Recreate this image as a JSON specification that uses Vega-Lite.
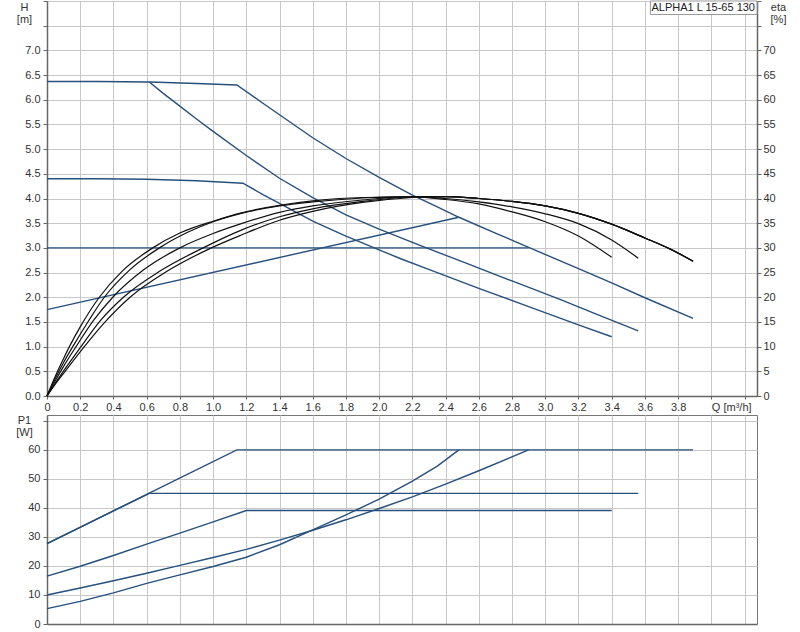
{
  "$schema": "https://vega.github.io/schema/vega-lite/v6.json",
  "padding": {"left": 15, "top": 0, "right": 5, "bottom": 0},
  "background": "white",
  "config": {
    "view": {"stroke": "#777777", "strokeWidth": 1},
    "font": "Liberation Sans",
    "axis": {
      "labelFont": "Liberation Sans", "labelFontSize": 11, "labelColor": "#333333",
      "titleFont": "Liberation Sans", "titleFontSize": 11, "titleFontWeight": "normal", "titleColor": "#333333",
      "domainColor": "#666666", "domainWidth": 1.5, "tickColor": "#666666", "tickSize": 4,
      "gridColor": "#c8c8c8", "gridWidth": 1, "labelOverlap": false, "labelFlush": false
    }
  },
  "datasets": {
    "head": [
      {"curve": "h1", "q": 0, "h": 6.37}, {"curve": "h1", "q": 0.3, "h": 6.37}, {"curve": "h1", "q": 0.62, "h": 6.36}, {"curve": "h1", "q": 0.9, "h": 6.33}, {"curve": "h1", "q": 1.143, "h": 6.30}, {"curve": "h1", "q": 1.3, "h": 5.93}, {"curve": "h1", "q": 1.45, "h": 5.58}, {"curve": "h1", "q": 1.6, "h": 5.23}, {"curve": "h1", "q": 1.8, "h": 4.81}, {"curve": "h1", "q": 2.0, "h": 4.43}, {"curve": "h1", "q": 2.2, "h": 4.07}, {"curve": "h1", "q": 2.35, "h": 3.83}, {"curve": "h1", "q": 2.48, "h": 3.62}, {"curve": "h1", "q": 2.7, "h": 3.30}, {"curve": "h1", "q": 2.9, "h": 3.01}, {"curve": "h1", "q": 3.2, "h": 2.58}, {"curve": "h1", "q": 3.4, "h": 2.29}, {"curve": "h1", "q": 3.6, "h": 1.99}, {"curve": "h1", "q": 3.89, "h": 1.57},
      {"curve": "h2", "q": 0.616, "h": 6.36}, {"curve": "h2", "q": 0.7, "h": 6.13}, {"curve": "h2", "q": 0.8, "h": 5.87}, {"curve": "h2", "q": 0.9, "h": 5.61}, {"curve": "h2", "q": 1.0, "h": 5.36}, {"curve": "h2", "q": 1.2, "h": 4.87}, {"curve": "h2", "q": 1.4, "h": 4.41}, {"curve": "h2", "q": 1.6, "h": 4.02}, {"curve": "h2", "q": 1.8, "h": 3.67}, {"curve": "h2", "q": 2.0, "h": 3.38}, {"curve": "h2", "q": 2.2, "h": 3.11}, {"curve": "h2", "q": 2.5, "h": 2.72}, {"curve": "h2", "q": 2.8, "h": 2.33}, {"curve": "h2", "q": 3.1, "h": 1.94}, {"curve": "h2", "q": 3.3, "h": 1.67}, {"curve": "h2", "q": 3.56, "h": 1.32},
      {"curve": "h3", "q": 0, "h": 4.40}, {"curve": "h3", "q": 0.3, "h": 4.40}, {"curve": "h3", "q": 0.6, "h": 4.39}, {"curve": "h3", "q": 0.9, "h": 4.36}, {"curve": "h3", "q": 1.18, "h": 4.31}, {"curve": "h3", "q": 1.3, "h": 4.08}, {"curve": "h3", "q": 1.4, "h": 3.90}, {"curve": "h3", "q": 1.6, "h": 3.54}, {"curve": "h3", "q": 1.8, "h": 3.24}, {"curve": "h3", "q": 2.0, "h": 2.96}, {"curve": "h3", "q": 2.13, "h": 2.78}, {"curve": "h3", "q": 2.31, "h": 2.55}, {"curve": "h3", "q": 2.6, "h": 2.18}, {"curve": "h3", "q": 2.9, "h": 1.81}, {"curve": "h3", "q": 3.2, "h": 1.44}, {"curve": "h3", "q": 3.4, "h": 1.20},
      {"curve": "h4", "q": 0, "h": 3.0}, {"curve": "h4", "q": 2.9, "h": 3.0},
      {"curve": "h5", "q": 0, "h": 1.75}, {"curve": "h5", "q": 2.48, "h": 3.62}
    ],
    "eta": [
      {"curve": "e1", "q": 0, "eta": 0}, {"curve": "e1", "q": 0.05, "eta": 4.0}, {"curve": "e1", "q": 0.1, "eta": 7.6}, {"curve": "e1", "q": 0.135, "eta": 10}, {"curve": "e1", "q": 0.2, "eta": 14.0}, {"curve": "e1", "q": 0.315, "eta": 20}, {"curve": "e1", "q": 0.45, "eta": 25.2}, {"curve": "e1", "q": 0.637, "eta": 30}, {"curve": "e1", "q": 0.8, "eta": 33.0}, {"curve": "e1", "q": 1.0, "eta": 35.4}, {"curve": "e1", "q": 1.17, "eta": 37.1}, {"curve": "e1", "q": 1.4, "eta": 38.6}, {"curve": "e1", "q": 1.6, "eta": 39.5}, {"curve": "e1", "q": 1.9, "eta": 40.2}, {"curve": "e1", "q": 2.2, "eta": 40.3}, {"curve": "e1", "q": 2.4, "eta": 39.8}, {"curve": "e1", "q": 2.6, "eta": 38.9}, {"curve": "e1", "q": 2.8, "eta": 37.3}, {"curve": "e1", "q": 3.0, "eta": 35.3}, {"curve": "e1", "q": 3.2, "eta": 32.4}, {"curve": "e1", "q": 3.4, "eta": 28.1},
      {"curve": "e2", "q": 0, "eta": 0}, {"curve": "e2", "q": 0.05, "eta": 3.6}, {"curve": "e2", "q": 0.1, "eta": 6.8}, {"curve": "e2", "q": 0.155, "eta": 10}, {"curve": "e2", "q": 0.25, "eta": 15.2}, {"curve": "e2", "q": 0.345, "eta": 20}, {"curve": "e2", "q": 0.5, "eta": 25.6}, {"curve": "e2", "q": 0.677, "eta": 30}, {"curve": "e2", "q": 0.85, "eta": 33.2}, {"curve": "e2", "q": 1.0, "eta": 35.3}, {"curve": "e2", "q": 1.17, "eta": 37.0}, {"curve": "e2", "q": 1.4, "eta": 38.5}, {"curve": "e2", "q": 1.6, "eta": 39.3}, {"curve": "e2", "q": 1.9, "eta": 40.1}, {"curve": "e2", "q": 2.2, "eta": 40.4}, {"curve": "e2", "q": 2.4, "eta": 40.0}, {"curve": "e2", "q": 2.6, "eta": 39.3}, {"curve": "e2", "q": 2.8, "eta": 38.3}, {"curve": "e2", "q": 3.0, "eta": 36.9}, {"curve": "e2", "q": 3.2, "eta": 34.9}, {"curve": "e2", "q": 3.4, "eta": 31.6}, {"curve": "e2", "q": 3.56, "eta": 27.9},
      {"curve": "e3", "q": 0, "eta": 0}, {"curve": "e3", "q": 0.05, "eta": 3.1}, {"curve": "e3", "q": 0.1, "eta": 6.0}, {"curve": "e3", "q": 0.175, "eta": 10}, {"curve": "e3", "q": 0.28, "eta": 15.3}, {"curve": "e3", "q": 0.396, "eta": 20}, {"curve": "e3", "q": 0.58, "eta": 25.5}, {"curve": "e3", "q": 0.8, "eta": 30}, {"curve": "e3", "q": 1.0, "eta": 32.9}, {"curve": "e3", "q": 1.17, "eta": 34.9}, {"curve": "e3", "q": 1.4, "eta": 37.2}, {"curve": "e3", "q": 1.6, "eta": 38.5}, {"curve": "e3", "q": 1.9, "eta": 39.7}, {"curve": "e3", "q": 2.2, "eta": 40.4}, {"curve": "e3", "q": 2.4, "eta": 40.4}, {"curve": "e3", "q": 2.6, "eta": 40.0}, {"curve": "e3", "q": 2.8, "eta": 39.4}, {"curve": "e3", "q": 3.0, "eta": 38.5}, {"curve": "e3", "q": 3.2, "eta": 37.0}, {"curve": "e3", "q": 3.4, "eta": 34.8}, {"curve": "e3", "q": 3.6, "eta": 32.0}, {"curve": "e3", "q": 3.75, "eta": 29.8}, {"curve": "e3", "q": 3.89, "eta": 27.3},
      {"curve": "e4", "q": 0, "eta": 0}, {"curve": "e4", "q": 0.05, "eta": 2.6}, {"curve": "e4", "q": 0.1, "eta": 5.1}, {"curve": "e4", "q": 0.205, "eta": 10}, {"curve": "e4", "q": 0.32, "eta": 15.2}, {"curve": "e4", "q": 0.46, "eta": 20}, {"curve": "e4", "q": 0.68, "eta": 25.3}, {"curve": "e4", "q": 0.94, "eta": 30}, {"curve": "e4", "q": 1.17, "eta": 33.6}, {"curve": "e4", "q": 1.4, "eta": 36.3}, {"curve": "e4", "q": 1.6, "eta": 37.9}, {"curve": "e4", "q": 1.9, "eta": 39.4}, {"curve": "e4", "q": 2.2, "eta": 40.3}, {"curve": "e4", "q": 2.4, "eta": 40.4}, {"curve": "e4", "q": 2.6, "eta": 40.0}, {"curve": "e4", "q": 2.8, "eta": 39.4}, {"curve": "e4", "q": 3.0, "eta": 38.5}, {"curve": "e4", "q": 3.2, "eta": 37.0}, {"curve": "e4", "q": 3.4, "eta": 34.8}, {"curve": "e4", "q": 3.6, "eta": 32.0}, {"curve": "e4", "q": 3.75, "eta": 29.8}, {"curve": "e4", "q": 3.89, "eta": 27.3},
      {"curve": "e5", "q": 0, "eta": 0}, {"curve": "e5", "q": 0.05, "eta": 2.4}, {"curve": "e5", "q": 0.1, "eta": 4.6}, {"curve": "e5", "q": 0.225, "eta": 10}, {"curve": "e5", "q": 0.35, "eta": 15.0}, {"curve": "e5", "q": 0.5, "eta": 20}, {"curve": "e5", "q": 0.72, "eta": 25.2}, {"curve": "e5", "q": 0.99, "eta": 30}, {"curve": "e5", "q": 1.17, "eta": 32.6}, {"curve": "e5", "q": 1.4, "eta": 35.6}, {"curve": "e5", "q": 1.6, "eta": 37.4}, {"curve": "e5", "q": 1.9, "eta": 39.2}, {"curve": "e5", "q": 2.2, "eta": 40.2}, {"curve": "e5", "q": 2.4, "eta": 40.4}, {"curve": "e5", "q": 2.6, "eta": 40.0}, {"curve": "e5", "q": 2.8, "eta": 39.4}, {"curve": "e5", "q": 3.0, "eta": 38.5}, {"curve": "e5", "q": 3.2, "eta": 37.0}, {"curve": "e5", "q": 3.4, "eta": 34.8}, {"curve": "e5", "q": 3.6, "eta": 32.0}, {"curve": "e5", "q": 3.75, "eta": 29.8}, {"curve": "e5", "q": 3.89, "eta": 27.3}
    ],
    "power": [
      {"curve": "p1", "q": 0, "p": 27.7}, {"curve": "p1", "q": 1.143, "p": 60}, {"curve": "p1", "q": 3.89, "p": 60},
      {"curve": "p2", "q": 0, "p": 27.7}, {"curve": "p2", "q": 0.616, "p": 45}, {"curve": "p2", "q": 3.56, "p": 45},
      {"curve": "p3", "q": 0, "p": 16.5}, {"curve": "p3", "q": 0.2, "p": 19.9}, {"curve": "p3", "q": 0.4, "p": 23.6}, {"curve": "p3", "q": 0.6, "p": 27.5}, {"curve": "p3", "q": 0.8, "p": 31.3}, {"curve": "p3", "q": 1.0, "p": 35.2}, {"curve": "p3", "q": 1.2, "p": 39.1}, {"curve": "p3", "q": 3.4, "p": 39.1},
      {"curve": "p4", "q": 0, "p": 10}, {"curve": "p4", "q": 0.2, "p": 12.4}, {"curve": "p4", "q": 0.4, "p": 14.9}, {"curve": "p4", "q": 0.6, "p": 17.5}, {"curve": "p4", "q": 0.8, "p": 20.2}, {"curve": "p4", "q": 1.0, "p": 22.9}, {"curve": "p4", "q": 1.2, "p": 25.7}, {"curve": "p4", "q": 1.4, "p": 28.9}, {"curve": "p4", "q": 1.6, "p": 32.3}, {"curve": "p4", "q": 1.8, "p": 35.9}, {"curve": "p4", "q": 2.0, "p": 39.8}, {"curve": "p4", "q": 2.2, "p": 43.8}, {"curve": "p4", "q": 2.4, "p": 48.2}, {"curve": "p4", "q": 2.6, "p": 52.8}, {"curve": "p4", "q": 2.9, "p": 60},
      {"curve": "p5", "q": 0, "p": 5.3}, {"curve": "p5", "q": 0.2, "p": 7.8}, {"curve": "p5", "q": 0.4, "p": 10.7}, {"curve": "p5", "q": 0.6, "p": 14.0}, {"curve": "p5", "q": 0.8, "p": 16.9}, {"curve": "p5", "q": 1.0, "p": 19.8}, {"curve": "p5", "q": 1.2, "p": 23.0}, {"curve": "p5", "q": 1.4, "p": 27.3}, {"curve": "p5", "q": 1.6, "p": 32.4}, {"curve": "p5", "q": 1.8, "p": 37.6}, {"curve": "p5", "q": 2.0, "p": 43.0}, {"curve": "p5", "q": 2.2, "p": 49.2}, {"curve": "p5", "q": 2.35, "p": 54.4}, {"curve": "p5", "q": 2.48, "p": 60}
    ],
    "label": [{"text": "ALPHA1 L 15-65 130", "q0": 3.633, "q1": 4.275, "h0": 7.727, "h1": 8.0, "hm": 7.865}]
  },
  "bounds": "flush",
  "spacing": 19,
  "vconcat": [
    {
      "width": 710,
      "height": 395,
      "layer": [
        {
          "data": {"name": "head"},
          "mark": {"type": "line", "interpolate": "linear", "color": "#26507e", "strokeWidth": 1.4},
          "encoding": {
            "x": {
              "field": "q", "type": "quantitative",
              "scale": {"domain": [0, 4.275], "nice": false, "zero": false},
              "axis": {
                "title": null,
                "values": [0, 0.2, 0.4, 0.6, 0.8, 1, 1.2, 1.4, 1.6, 1.8, 2, 2.2, 2.4, 2.6, 2.8, 3, 3.2, 3.4, 3.6, 3.8, 4, 4.2],
                "labelExpr": "datum.value == 0 ? '0' : (abs(datum.value - 4) < 0.01 ? 'Q [m³/h]' : (datum.value > 3.9 ? '' : format(datum.value, '.1f')))",
                "labelAlign": {"condition": {"test": "abs(datum.value - 4) < 0.01", "value": "left"}, "value": "center"},
                "labelOverlap": false, "labelFlush": false,
                "tickSize": 3, "labelPadding": 2
              }
            },
            "y": {
              "field": "h", "type": "quantitative",
              "scale": {"domain": [0, 8], "nice": false, "zero": true},
              "axis": {
                "values": [0, 0.5, 1, 1.5, 2, 2.5, 3, 3.5, 4, 4.5, 5, 5.5, 6, 6.5, 7, 7.5, 8],
                "labelExpr": "datum.value > 7.05 ? '' : format(datum.value, '.1f')",
                "labelFontSize": {"condition": {"test": "datum.value > 7.05", "value": 0}, "value": 11},
                "labelPadding": 3, "labelOverlap": false,
                "title": ["H", "[m]"], "titleAngle": 0, "titleAlign": "center", "titleBaseline": "top",
                "titleX": -23, "titleY": 0, "titleLineHeight": 12
              }
            },
            "detail": {"field": "curve"}
          }
        },
        {
          "data": {"name": "eta"},
          "mark": {"type": "line", "interpolate": "monotone", "color": "#111111", "strokeWidth": 1.2},
          "encoding": {
            "x": {
              "field": "q", "type": "quantitative",
              "axis": {
                "title": null,
                "values": [0, 0.2, 0.4, 0.6, 0.8, 1, 1.2, 1.4, 1.6, 1.8, 2, 2.2, 2.4, 2.6, 2.8, 3, 3.2, 3.4, 3.6, 3.8, 4, 4.2],
                "labelExpr": "datum.value == 0 ? '0' : (abs(datum.value - 4) < 0.01 ? 'Q [m³/h]' : (datum.value > 3.9 ? '' : format(datum.value, '.1f')))",
                "labelAlign": {"condition": {"test": "abs(datum.value - 4) < 0.01", "value": "left"}, "value": "center"},
                "labelOverlap": false, "labelFlush": false,
                "tickSize": 3, "labelPadding": 2
              }
            },
            "y": {
              "field": "eta", "type": "quantitative",
              "scale": {"domain": [0, 80], "nice": false, "zero": true},
              "axis": {
                "orient": "right", "grid": false,
                "values": [0, 5, 10, 15, 20, 25, 30, 35, 40, 45, 50, 55, 60, 65, 70, 75, 80],
                "labelExpr": "datum.value > 70.5 ? '' : format(datum.value, 'd')",
                "labelFontSize": {"condition": {"test": "datum.value > 70.5", "value": 0}, "value": 11},
                "labelPadding": 2, "labelOverlap": false,
                "title": ["eta", "[%]"], "titleAngle": 0, "titleAlign": "center", "titleBaseline": "top",
                "titleX": 21, "titleY": 0, "titleLineHeight": 12
              }
            },
            "detail": {"field": "curve"}
          }
        },
        {
          "data": {"name": "label"},
          "mark": {"type": "rect", "fill": "white", "stroke": "#999999", "strokeWidth": 1},
          "encoding": {
            "x": {
              "field": "q0", "type": "quantitative",
              "axis": {
                "title": null,
                "values": [0, 0.2, 0.4, 0.6, 0.8, 1, 1.2, 1.4, 1.6, 1.8, 2, 2.2, 2.4, 2.6, 2.8, 3, 3.2, 3.4, 3.6, 3.8, 4, 4.2],
                "labelExpr": "datum.value == 0 ? '0' : (abs(datum.value - 4) < 0.01 ? 'Q [m³/h]' : (datum.value > 3.9 ? '' : format(datum.value, '.1f')))",
                "labelAlign": {"condition": {"test": "abs(datum.value - 4) < 0.01", "value": "left"}, "value": "center"},
                "labelOverlap": false, "labelFlush": false,
                "tickSize": 3, "labelPadding": 2
              }
            },
            "x2": {"field": "q1"},
            "y": {"field": "h0", "type": "quantitative", "scale": {"domain": [0, 8], "nice": false}, "axis": null},
            "y2": {"field": "h1"}
          }
        },
        {
          "data": {"name": "label"},
          "mark": {"type": "text", "align": "right", "baseline": "middle", "dx": -2, "fontSize": 11, "font": "Liberation Sans", "color": "#222222"},
          "encoding": {
            "x": {
              "field": "q1", "type": "quantitative",
              "axis": {
                "title": null,
                "values": [0, 0.2, 0.4, 0.6, 0.8, 1, 1.2, 1.4, 1.6, 1.8, 2, 2.2, 2.4, 2.6, 2.8, 3, 3.2, 3.4, 3.6, 3.8, 4, 4.2],
                "labelExpr": "datum.value == 0 ? '0' : (abs(datum.value - 4) < 0.01 ? 'Q [m³/h]' : (datum.value > 3.9 ? '' : format(datum.value, '.1f')))",
                "labelAlign": {"condition": {"test": "abs(datum.value - 4) < 0.01", "value": "left"}, "value": "center"},
                "labelOverlap": false, "labelFlush": false,
                "tickSize": 3, "labelPadding": 2
              }
            },
            "y": {"field": "hm", "type": "quantitative", "scale": {"domain": [0, 8], "nice": false}, "axis": null},
            "text": {"field": "text"}
          }
        }
      ],
      "resolve": {"scale": {"y": "independent"}}
    },
    {
      "width": 710,
      "height": 209,
      "data": {"name": "power"},
      "mark": {"type": "line", "interpolate": "linear", "color": "#26507e", "strokeWidth": 1.4},
      "encoding": {
        "x": {
          "field": "q", "type": "quantitative",
          "scale": {"domain": [0, 4.275], "nice": false, "zero": false},
          "axis": {
            "title": null, "labels": false, "ticks": false,
            "values": [0, 0.2, 0.4, 0.6, 0.8, 1, 1.2, 1.4, 1.6, 1.8, 2, 2.2, 2.4, 2.6, 2.8, 3, 3.2, 3.4, 3.6, 3.8, 4, 4.2]
          }
        },
        "y": {
          "field": "p", "type": "quantitative",
          "scale": {"domain": [0, 72], "nice": false, "zero": true},
          "axis": {
            "values": [0, 10, 20, 30, 40, 50, 60, 70],
            "labelExpr": "datum.value > 65 ? '' : format(datum.value, 'd')",
            "labelFontSize": {"condition": {"test": "datum.value > 65", "value": 0}, "value": 11},
            "labelPadding": 3, "labelOverlap": false,
            "title": ["P1", "[W]"], "titleAngle": 0, "titleAlign": "center", "titleBaseline": "top",
            "titleX": -23, "titleY": -1, "titleLineHeight": 12
          }
        },
        "detail": {"field": "curve"}
      }
    }
  ]
}
